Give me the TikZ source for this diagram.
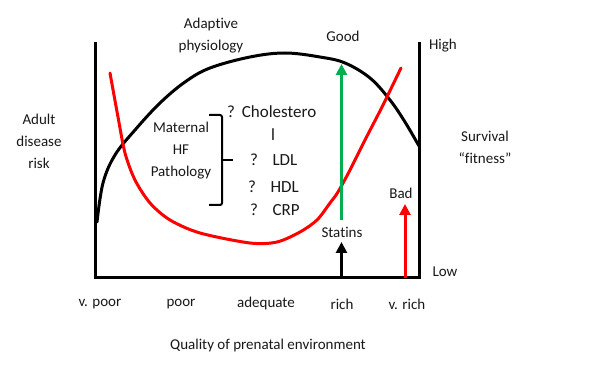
\documentclass[tikz,border=0pt]{standalone}
\usepackage{fontspec}
\setmainfont{Carlito}[Ligatures=NoCommon]
\usetikzlibrary{arrows.meta}
\definecolor{okgreen}{RGB}{0,176,80}
\begin{document}
\begin{tikzpicture}[x=1pt,y=-1pt,
  lbl/.style={inner sep=0pt,align=center,font=\fontsize{15}{22}\selectfont,text=black!90},
  big/.style={inner sep=0pt,anchor=west,font=\fontsize{17}{20}\selectfont,text=black!90},
  axis/.style={line width=3pt},
  curve/.style={line width=3pt,line join=round,line cap=round},
  arr/.style={line width=3pt,-{Triangle[width=11pt,length=11pt]}}]
\useasboundingbox[fill=white] (0,0) rectangle (598,379);
% axes
\coordinate (tl) at (95.5,42);
\coordinate (bl) at (95.5,278);
\coordinate (br) at (419,278);
\coordinate (tr) at (419,42);
\draw[axis] (tl) -- (bl) -- (br) -- (tr);
% black curve
\draw[curve] plot[smooth,tension=0.6] coordinates {(97,222) (103,183) (115,155) (135,130) (160,103) (185,82) (210,68) (250,57) (285,53) (320,57) (345,63) (370,78) (390,100) (405,122) (419,146)};
% red curve
\draw[curve,red] plot[smooth,tension=0.5] coordinates {(110,73) (118,117) (125,153) (135,180) (150,203) (170,220) (200,233) (250,243) (277,242) (300,232) (317,220) (330,203) (338,192) (350,170) (365,140) (382,107) (401,68)};
% arrows
\coordinate (g0) at (341.5,220);
\coordinate (g1) at (341.5,64);
\draw[arr,okgreen] (g0) -- (g1);
\coordinate (s0) at (341.5,278);
\coordinate (s1) at (341.5,242);
\draw[arr] (s0) -- (s1);
\coordinate (r0) at (405,278);
\coordinate (r1) at (405,204);
\draw[arr,red] (r0) -- (r1);
% brace
\coordinate (b1) at (209,115);
\coordinate (b2) at (222,115);
\coordinate (b3) at (222,205);
\coordinate (b4) at (209,205);
\coordinate (bm) at (222,160);
\coordinate (bt) at (233,160);
\draw[line width=2pt,rounded corners=2pt] (b1) -- (b2) -- (b3) -- (b4);
\draw[line width=2pt] (bm) -- (bt);
% labels
\node[lbl] (adapt) at (211,36) {Adaptive\\physiology};
\node[lbl] (good) at (343,36) {Good};
\node[lbl] (high) at (443,46) {High};
\node[lbl] (low) at (445,272) {Low};
\node[lbl] (adult) at (39,141) {Adult\\disease\\risk};
\node[lbl] (surv) at (485,147) {Survival\\“fitness”};
\node[lbl] (bad) at (401,193) {Bad};
\node[lbl] (stat) at (342,232) {Statins};
\node[lbl] (mat) at (181,151) {Maternal\\HF\\Pathology};
\node[big] (q1) at (227,112) {?\hspace{0.4em}Cholestero};
\node[big,anchor=center] (q1b) at (273,135) {l};
\node[big] (q2) at (250,160) {?\hspace{0.85em}LDL};
\node[big] (q3) at (248,187) {?\hspace{0.85em}HDL};
\node[big] (q4) at (250,210) {?\hspace{0.85em}CRP};
\node[lbl] (x1) at (100,304) {v. poor};
\node[lbl] (x2) at (181,304) {poor};
\node[lbl] (x3) at (266,304) {adequate};
\node[lbl] (x4) at (342,304) {rich};
\node[lbl] (x5) at (407,304) {v. rich};
\node[lbl] (xt) at (268,346) {Quality of prenatal environment};
\end{tikzpicture}
\end{document}
